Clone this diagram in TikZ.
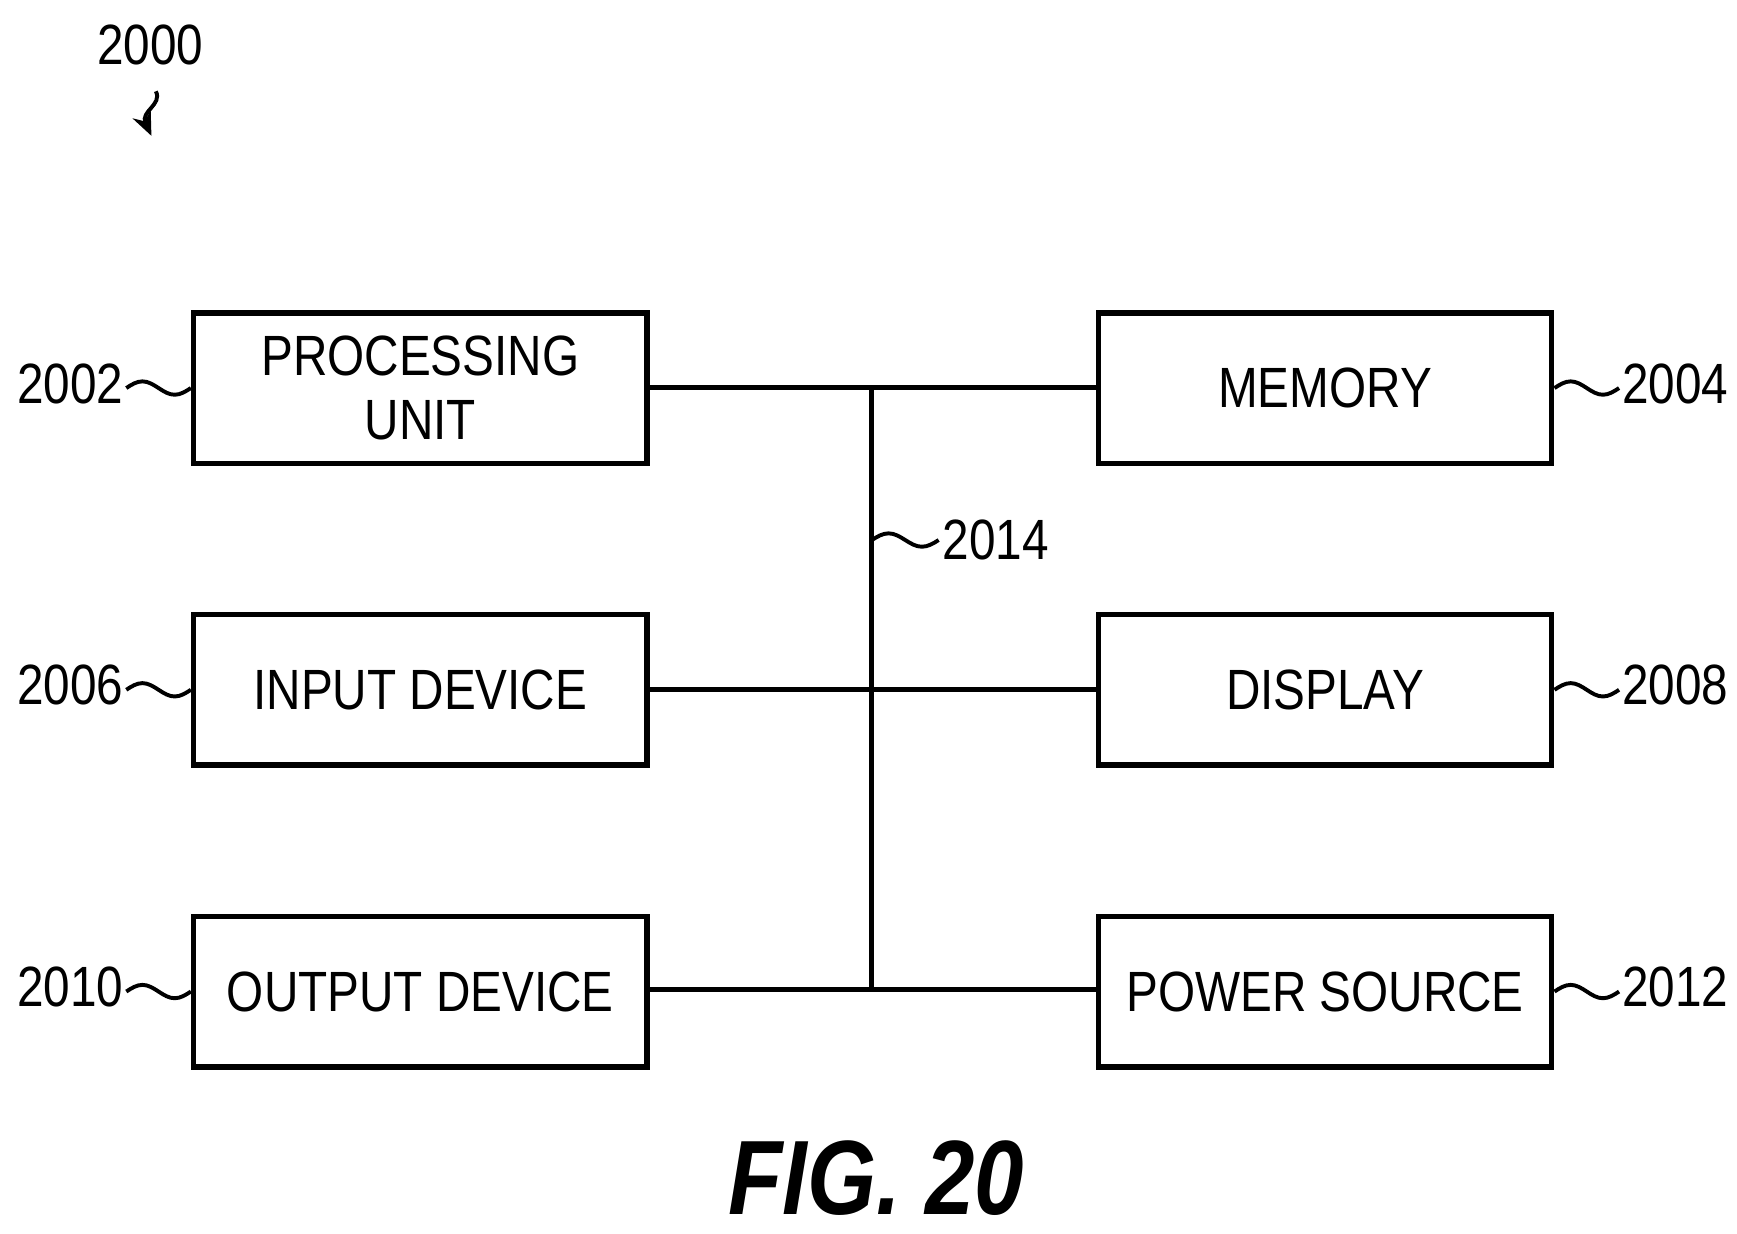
\documentclass[tikz,border=0pt]{standalone}
\usepackage{fontspec}
\setmainfont{Liberation Sans}[FakeStretch=0.84]
\usetikzlibrary{arrows.meta, positioning, calc}

\begin{document}
\begin{tikzpicture}[
    x=0.01cm, y=-0.01cm,
    every node/.style={font=\fontsize{14.5}{16.5}\selectfont},
    block/.style={draw, line width=1.4pt, minimum width=4.07cm, minimum height=1.35cm, align=center, inner sep=0pt},
    bus/.style={line width=1.3pt},
    lead/.style={line width=1.0pt},
    ref/.style={inner sep=0pt}
]
    \useasboundingbox (0,0) rectangle (1560,1108);

    % blocks
    \node[block] (pu)  at (377.5,348.5) {PROCESSING\\UNIT};
    \node[block] (mem) at (1190,348.5) {MEMORY};
    \node[block] (in)  at (377.5,619.5) {INPUT DEVICE};
    \node[block] (disp) at (1190,619.5) {DISPLAY};
    \node[block] (out) at (377.5,890.5) {OUTPUT DEVICE};
    \node[block] (pwr) at (1190,890.5) {POWER SOURCE};

    % bus
    \coordinate (btop) at (783,348);
    \coordinate (bbot) at (783,889);
    \draw[bus] (btop) -- (bbot);
    \draw[bus] (pu.east |- btop) -- (mem.west |- btop);
    \draw[bus] (in.east) -- (disp.west);
    \draw[bus] (out.east |- bbot) -- (pwr.west |- bbot);

    % reference numerals
    \foreach \b/\t in {pu/2002, in/2006, out/2010} {
        \node[ref, anchor=east] (n\t) at ($(\b.west)+(-60,-4)$) {\t};
        \draw[lead] ($(\b.west)+(-58,0)$) sin ++(14.5,-6) cos ++(14.5,6) sin ++(14.5,6) cos ++(14.5,-6);
    }
    \foreach \b/\t in {mem/2004, disp/2008, pwr/2012} {
        \node[ref, anchor=west] (n\t) at ($(\b.east)+(60,-4)$) {\t};
        \draw[lead] (\b.east) sin ++(14.5,-6) cos ++(14.5,6) sin ++(14.5,6) cos ++(14.5,-6);
    }
    \node[ref, anchor=west] (n2014) at (846,485) {2014};
    \draw[lead] (783,485) sin ++(15,-6) cos ++(15,6) sin ++(15,6) cos ++(15,-6);

    \node[ref] (n2000) at (135,40) {2000};
    \coordinate (tip) at (136,122);
    \draw[lead, -{Stealth[length=6pt, width=5pt]}] (140,82) .. controls (146,94) and (126,100) .. (tip);

    \node[font=\fontsize{27}{30}\selectfont\bfseries\itshape] (fig) at (787,1058) {FIG. 20};
\end{tikzpicture}
\end{document}
